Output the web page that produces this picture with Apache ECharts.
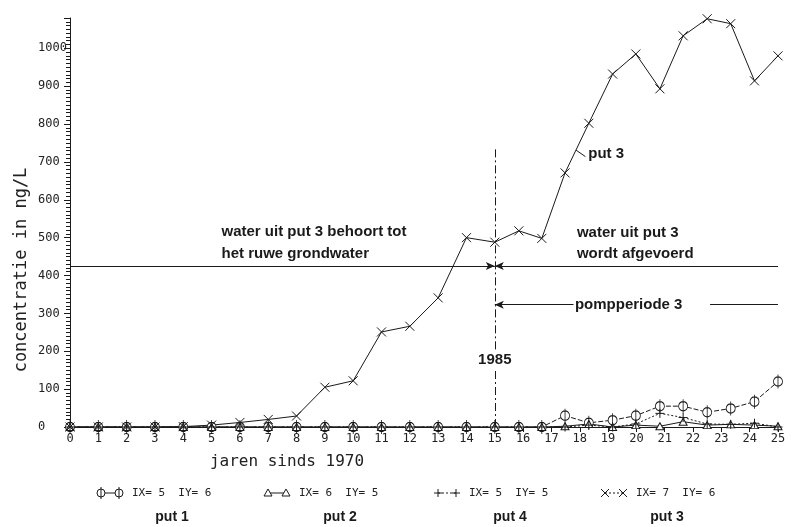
<!DOCTYPE html>
<html lang="nl">
  <head>
    <meta charset="UTF-8" />
    <title>concentratie put 1-4</title>
    <script src="https://cdn.jsdelivr.net/npm/echarts@6/dist/echarts.min.js"></script>
    <style>
      html, body { margin: 0; padding: 0; background: #fff; }
      #main { width: 796px; height: 527px; }
    </style>
  </head>
  <body>
    <div id="main"></div>
    <script>
      // jaren sinds 1970 (na 1985 ongeveer elke 10 maanden een meting)
      let years = [0, 1, 2, 3, 4, 5, 6, 7, 8, 9, 10, 11, 12, 13, 14, 15,
        15.85, 16.66, 17.48, 18.32, 19.16, 19.98, 20.83, 21.65, 22.5, 23.33, 24.17, 25];

      // concentratie in ng/L
      let put1 = [0, 0, 0, 0, 0, 0, 0, 0, 0, 0, 0, 0, 0, 0, 0, 0,
        0, 0, 30, 11, 18, 30, 55, 55, 39, 49, 67, 120];
      let put2 = [0, 0, 0, 0, 0, 0, 0, 0, 0, 0, 0, 0, 0, 0, 0, 0,
        0, 0, 2, 8, 0, 5, 2, 14, 5, 7, 5, 2];
      let put4 = [0, 0, 0, 0, 0, 0, 0, 0, 0, 0, 0, 0, 0, 0, 0, 0,
        0, 0, 0, 5, 0, 8, 36, 25, 8, 7, 10, 0];
      let put3 = [0, 0, 0, 0, 1, 5, 12, 20, 29, 105, 122, 251, 266, 341, 500, 488,
        518, 498, 671, 802, 932, 985, 893, 1033, 1078, 1065, 914, 980];

      let legendNames = ["put 1", "put 2", "put 4", "put 3"];
      let legendCodes = ["IX= 5  IY= 6", "IX= 6  IY= 5", "IX= 5  IY= 5", "IX= 7  IY= 6"];

      let ink = "#1a1a1a";
      let mono = "'DejaVu Sans Mono', 'Liberation Mono', monospace";
      let sans = "'Liberation Sans', Arial, sans-serif";

      let symPhi = "path://M1,7 A4,4 0 1,1 9,7 A4,4 0 1,1 1,7 Z M5,1 L5,13";
      let symPlus = "path://M5,0 L5,10 M0,5 L10,5";
      let symCross = "path://M0,0 L10,10 M10,0 L0,10";

      function pairs(vals) {
        return years.map((x, i) => [x, vals[i]]);
      }

      function makeSeries(name, vals, symbol, size, lineType) {
        return {
          name: name,
          type: "line",
          data: pairs(vals),
          symbol: symbol,
          symbolSize: size,
          clip: false,
          itemStyle: { color: "#fff", borderColor: ink, borderWidth: 1 },
          lineStyle: { color: ink, width: 1, type: lineType },
          emphasis: { disabled: true },
          z: 3,
        };
      }

      let myChart = echarts.init(document.getElementById("main"));

      let arrowEnd = { symbol: "arrow", symbolSize: [6, 9] };

      let options = {
        animation: false,
        backgroundColor: "#fff",
        grid: { left: 70, right: 18, top: 18, bottom: 100 },
        xAxis: {
          type: "value",
          min: 0,
          max: 25,
          interval: 1,
          axisLine: { lineStyle: { color: ink, width: 1 } },
          axisTick: { length: 5, lineStyle: { color: ink } },
          axisLabel: { fontFamily: mono, fontSize: 12, color: "#222", margin: 6 },
          splitLine: { show: false },
        },
        yAxis: {
          type: "value",
          min: 0,
          max: 1080,
          interval: 100,
          axisLine: { show: true, lineStyle: { color: ink, width: 1 } },
          axisTick: { show: true, length: 6, lineStyle: { color: ink } },
          minorTick: { show: true, splitNumber: 10, length: 4, lineStyle: { color: ink } },
          axisLabel: {
            fontFamily: mono,
            fontSize: 12,
            color: "#222",
            margin: 32,
            align: "left",
            showMaxLabel: false,
            formatter: (v) => String(v),
          },
          splitLine: { show: false },
        },
        series: [
          makeSeries("put 1", put1, symPhi, [9, 14], [5, 2]),
          makeSeries("put 2", put2, "triangle", [8, 7], "solid"),
          makeSeries("put 4", put4, symPlus, [9, 9], [2, 2]),
          Object.assign(makeSeries("put 3", put3, symCross, [9, 9], "solid"), {
            markLine: {
              silent: true,
              symbol: ["none", "none"],
              label: { show: false },
              lineStyle: { color: ink, width: 1, type: "solid" },
              data: [
                [{ coord: [0, 425] }, Object.assign({ coord: [15, 425] }, arrowEnd)],
                [{ coord: [25, 425] }, Object.assign({ coord: [15, 425] }, arrowEnd)],
                [{ coord: [17.78, 323] }, Object.assign({ coord: [15, 323] }, arrowEnd)],
                [{ coord: [22.6, 323] }, { coord: [25, 323] }],
                [{ coord: [17.87, 731] }, { coord: [18.2, 714] }],
                [
                  { coord: [15, 0], lineStyle: { type: [8, 3, 2, 3] } },
                  { coord: [15, 152] },
                ],
                [
                  { coord: [15, 205], lineStyle: { type: [8, 3, 2, 3] } },
                  { coord: [15, 735] },
                ],
              ],
            },
          }),
        ],
      };

      myChart.setOption(options);

      function px(x, y) {
        return myChart.convertToPixel({ gridIndex: 0 }, [x, y]);
      }

      function label(text, x, y, opts) {
        let p = px(x, y);
        return {
          type: "text",
          x: p[0],
          y: p[1],
          z: 100,
          style: Object.assign(
            {
              text: text,
              fill: ink,
              font: "bold 15px " + sans,
              textAlign: "left",
              textVerticalAlign: "middle",
            },
            opts || {}
          ),
        };
      }

      let graphics = [
        label("water uit put 3 behoort tot", 5.35, 515),
        label("het ruwe grondwater", 5.35, 457),
        label("water uit put 3", 17.9, 512),
        label("wordt afgevoerd", 17.9, 457),
        label("pompperiode 3", 17.83, 323),
        label("put 3", 18.3, 720),
        label("1985", 15, 178, { textAlign: "center" }),
      ];

      // aslabels
      graphics.push({
        type: "text",
        x: 22,
        y: 270,
        rotation: Math.PI / 2,
        style: {
          text: "concentratie in ng/L",
          fill: "#222",
          font: "17px " + mono,
          textAlign: "center",
          textVerticalAlign: "middle",
        },
      });
      graphics.push({
        type: "text",
        x: 287,
        y: 462,
        style: {
          text: "jaren sinds 1970",
          fill: "#222",
          font: "16px " + mono,
          textAlign: "center",
          textVerticalAlign: "middle",
        },
      });

      // legenda onder de figuur
      let legendSym = [110, 277, 447, 614];
      let legendPut = [172, 340, 510, 667];
      let legendY = 493;
      let stroke = { stroke: ink, lineWidth: 1, fill: "none" };

      function legendMarker(kind, cx, cy) {
        if (kind === 0) {
          return [
            { type: "circle", shape: { cx: cx, cy: cy, r: 4 }, style: Object.assign({}, stroke, { fill: "#fff" }) },
            { type: "line", shape: { x1: cx, y1: cy - 6, x2: cx, y2: cy + 6 }, style: stroke },
          ];
        }
        if (kind === 1) {
          return [
            { type: "polygon", shape: { points: [[cx, cy - 4], [cx + 4, cy + 3], [cx - 4, cy + 3]] }, style: Object.assign({}, stroke, { fill: "#fff" }) },
          ];
        }
        if (kind === 2) {
          return [
            { type: "line", shape: { x1: cx - 4, y1: cy, x2: cx + 4, y2: cy }, style: stroke },
            { type: "line", shape: { x1: cx, y1: cy - 4, x2: cx, y2: cy + 4 }, style: stroke },
          ];
        }
        return [
          { type: "line", shape: { x1: cx - 4, y1: cy - 4, x2: cx + 4, y2: cy + 4 }, style: stroke },
          { type: "line", shape: { x1: cx + 4, y1: cy - 4, x2: cx - 4, y2: cy + 4 }, style: stroke },
        ];
      }

      legendNames.forEach((name, i) => {
        let sx = legendSym[i];
        let dash = i === 0 || i === 1 ? null : [2, 2];
        graphics.push({
          type: "line",
          shape: { x1: sx - 9, y1: legendY, x2: sx + 9, y2: legendY },
          style: { stroke: ink, lineWidth: 1, lineDash: dash },
        });
        graphics.push(...legendMarker(i, sx - 9, legendY));
        graphics.push(...legendMarker(i, sx + 9, legendY));
        graphics.push({
          type: "text",
          x: sx + 22,
          y: legendY,
          style: {
            text: legendCodes[i],
            fill: "#222",
            font: "11px " + mono,
            textAlign: "left",
            textVerticalAlign: "middle",
          },
        });
        graphics.push({
          type: "text",
          x: legendPut[i],
          y: 517,
          style: {
            text: name,
            fill: ink,
            font: "bold 14px " + sans,
            textAlign: "center",
            textVerticalAlign: "middle",
          },
        });
      });

      myChart.setOption({ graphic: graphics });
    </script>
  </body>
</html>
